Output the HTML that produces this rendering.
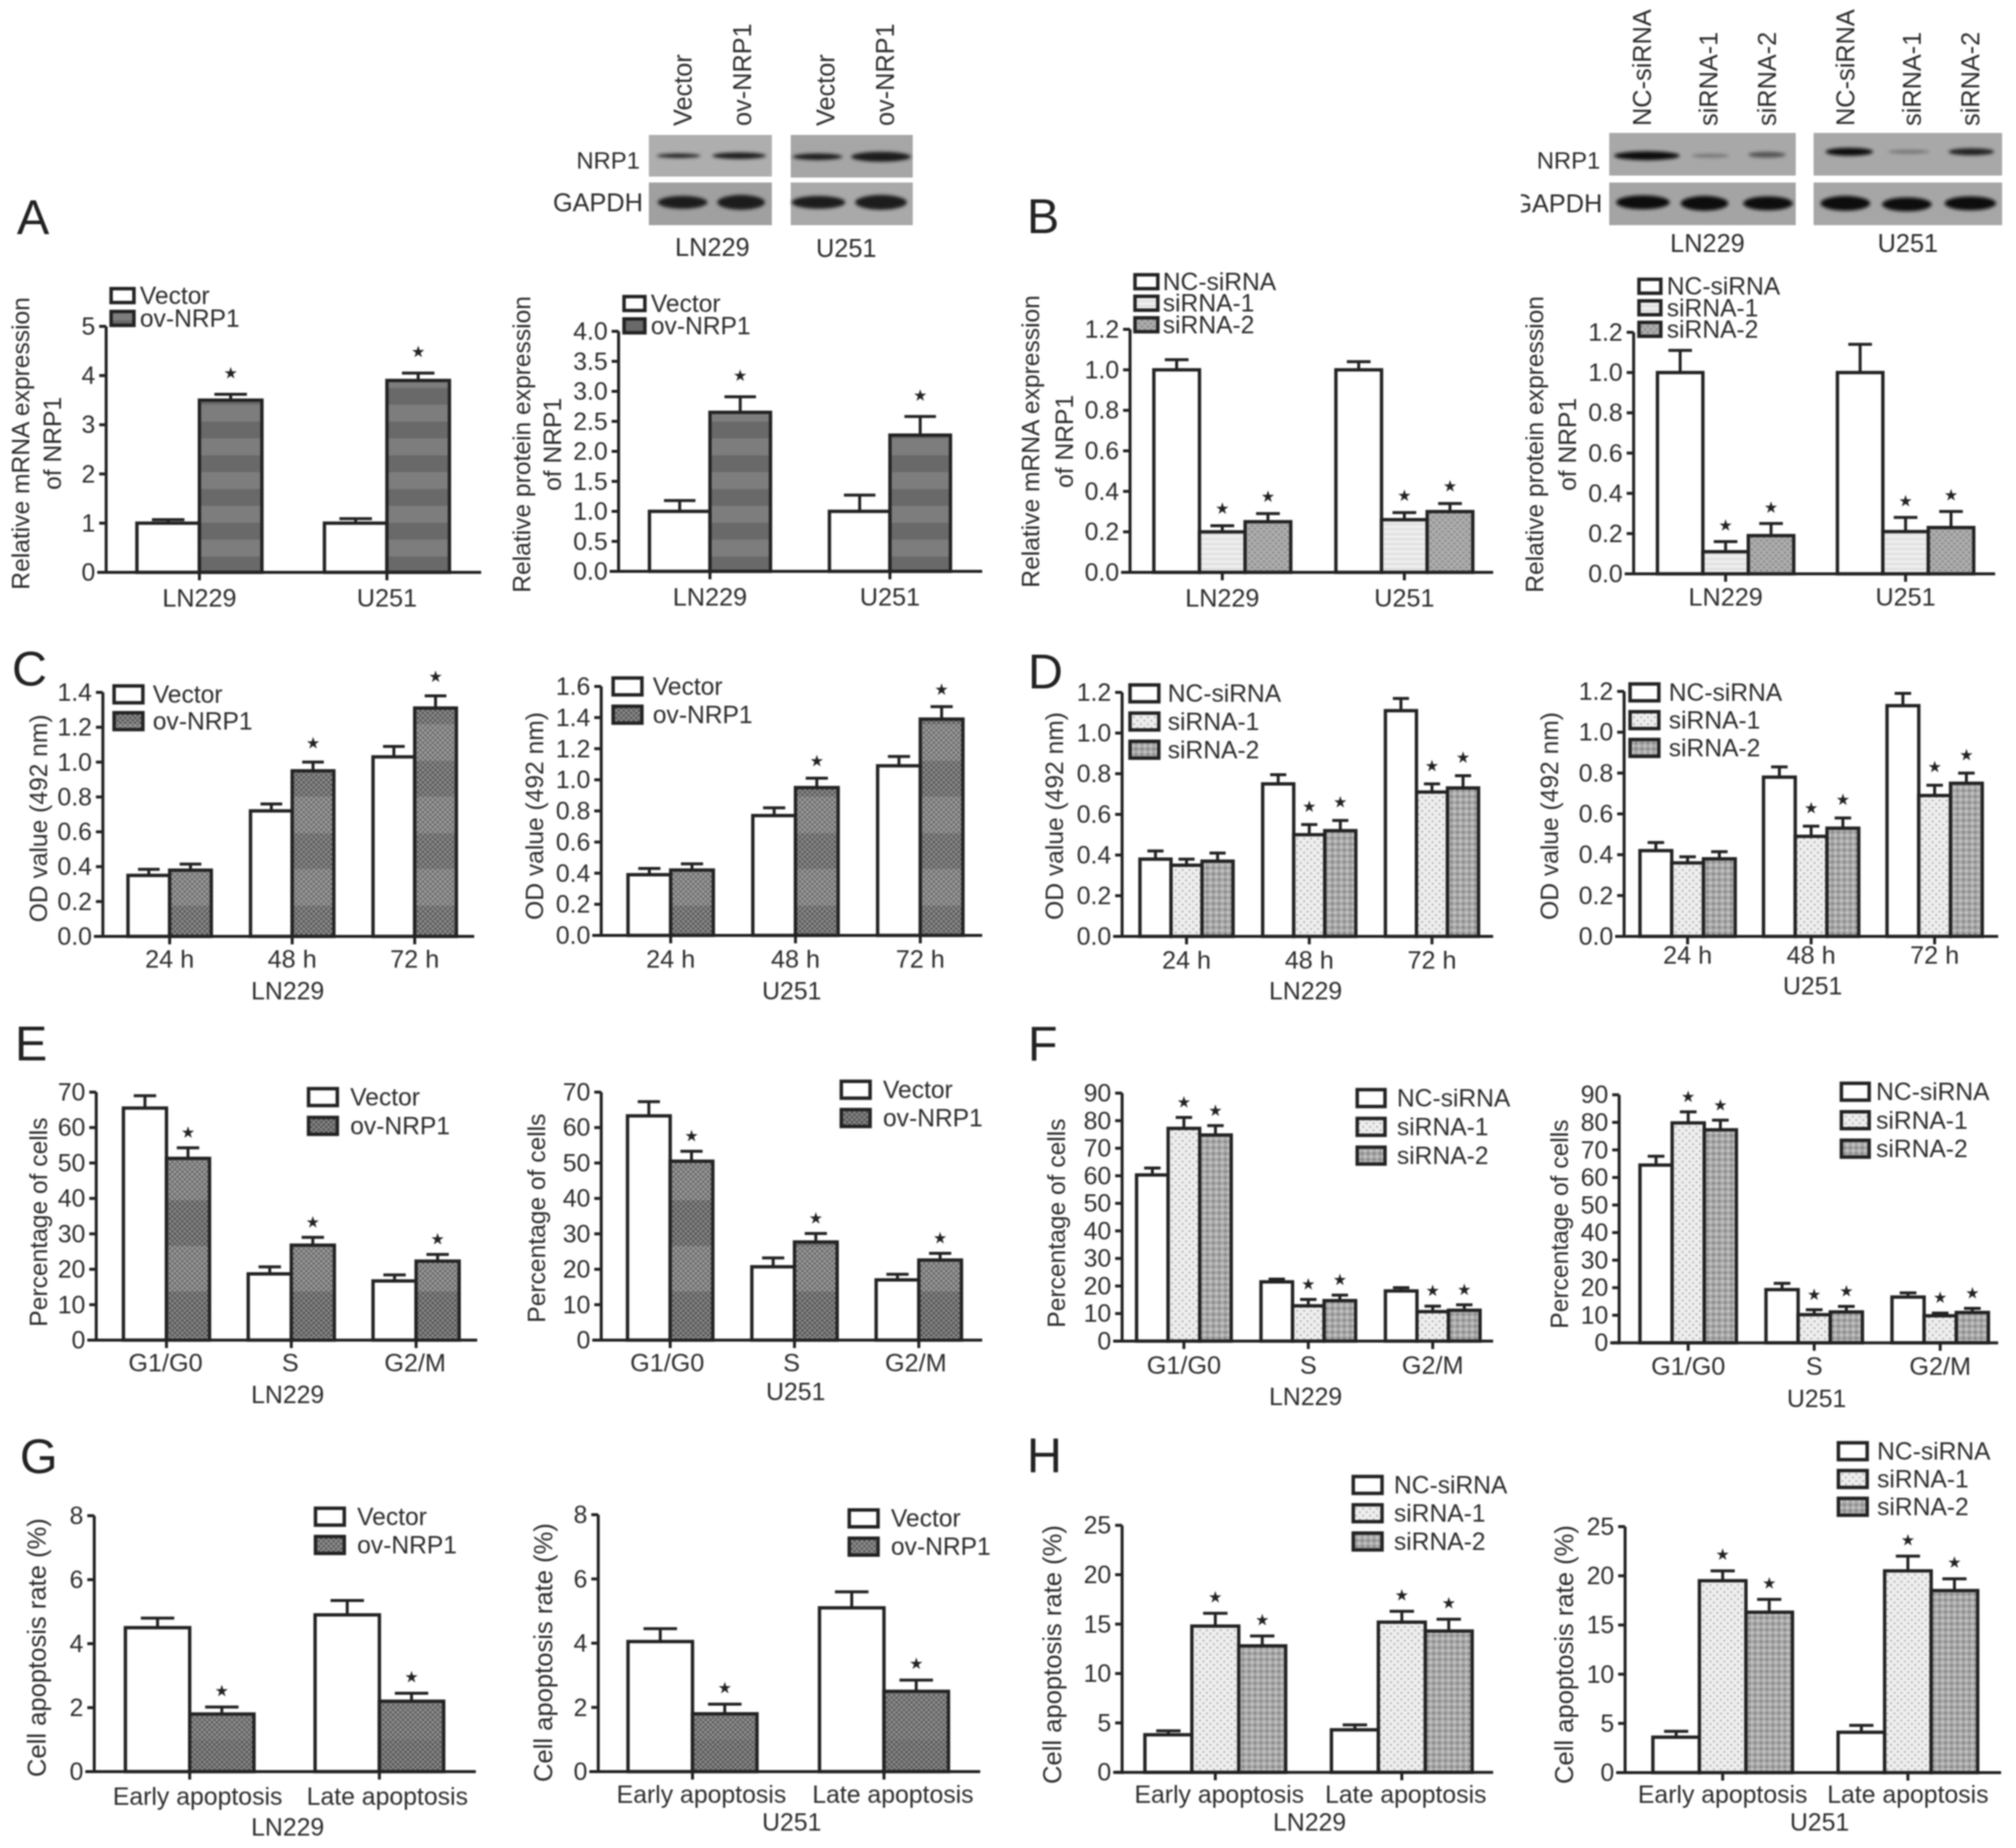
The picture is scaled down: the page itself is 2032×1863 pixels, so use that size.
<!DOCTYPE html>
<html lang="en">
<head>
<meta charset="utf-8">
<title>NRP1 expression, viability, cell cycle and apoptosis panels</title>
<style>
html,body{margin:0;padding:0;background:#fff;}
body{width:2032px;height:1863px;overflow:hidden;}
svg{display:block;filter:blur(0.7px);}
text{font-family:"Liberation Sans",sans-serif;fill:#2c2c2c;}
.blotlabel{font-size:25.5px;}
.nrp{font-size:24px;}
.letter{font-size:49px;fill:#222;}
</style>
</head>
<body>
<svg id="fig" xmlns="http://www.w3.org/2000/svg" width="2032" height="1863" viewBox="0 0 2032 1863">
<defs>
<pattern id="bandA" patternUnits="userSpaceOnUse" width="8" height="34"><rect width="8" height="17" fill="#7d7d7d"/><rect y="17" width="8" height="17" fill="#696969"/></pattern>
<pattern id="bandC" patternUnits="userSpaceOnUse" width="8" height="73" y="37"><rect width="8" height="36" fill="#6f6f6f"/><rect y="36" width="8" height="37" fill="#858585"/></pattern>
<pattern id="bandE" patternUnits="userSpaceOnUse" width="8" height="92" y="14"><rect width="8" height="46" fill="#6a6a6a"/><rect y="46" width="8" height="46" fill="#828282"/></pattern>
<pattern id="bandG" patternUnits="userSpaceOnUse" width="8" height="300" y="1486"><rect width="8" height="268" fill="#747474"/><rect y="268" width="8" height="32" fill="#6c6c6c"/></pattern>
<pattern id="checkOv" patternUnits="userSpaceOnUse" width="5" height="5"><rect width="2.5" height="2.5" fill="#fff" fill-opacity=".2"/><rect x="2.5" y="2.5" width="2.5" height="2.5" fill="#fff" fill-opacity=".2"/><rect x="2.5" width="2.5" height="2.5" fill="#000" fill-opacity=".18"/><rect y="2.5" width="2.5" height="2.5" fill="#000" fill-opacity=".18"/></pattern>
<pattern id="lineLight" patternUnits="userSpaceOnUse" width="6" height="5"><rect width="6" height="5" fill="#ececec"/><rect y="3" width="6" height="1" fill="#d8d8d8"/></pattern>
<pattern id="dotGrey" patternUnits="userSpaceOnUse" width="6" height="6"><rect width="6" height="6" fill="#acacac"/><rect x="1" y="1" width="2" height="2" fill="#8a8a8a"/><rect x="4" y="4" width="2" height="2" fill="#8a8a8a"/></pattern>
<pattern id="dotLight" patternUnits="userSpaceOnUse" width="7" height="7"><rect width="7" height="7" fill="#eee"/><rect x="1" y="1" width="2" height="2" fill="#bdbdbd"/><rect x="4.5" y="4.5" width="2" height="2" fill="#bdbdbd"/></pattern>
<pattern id="dotMid" patternUnits="userSpaceOnUse" width="6" height="6"><rect width="6" height="6" fill="#a8a8a8"/><rect x="1" y="1" width="2" height="2" fill="#d2d2d2"/><rect x="4" y="4" width="2" height="2" fill="#7c7c7c"/></pattern>
<filter id="soft" x="-20%" y="-100%" width="140%" height="300%"><feGaussianBlur stdDeviation="1.5"/></filter>
<clipPath id="gapdhClip"><rect x="1533" y="180" width="90" height="50"/></clipPath>
</defs>

<g>
<text class="letter" x="17" y="236">A</text>
<text class="letter" x="1035" y="235">B</text>
<text class="letter" x="12" y="691">C</text>
<text class="letter" x="1036" y="694">D</text>
<text class="letter" x="15" y="1069">E</text>
<text class="letter" x="1036" y="1069">F</text>
<text class="letter" x="20" y="1485">G</text>
<text class="letter" x="1035" y="1484">H</text>
</g>

<g>
<rect x="654" y="136" width="124" height="42" fill="#aeaeae"/>
<rect x="654" y="184" width="124" height="43" fill="#a0a0a0"/>
<rect x="797" y="136" width="123" height="43" fill="#a6a6a6"/>
<rect x="797" y="184" width="123" height="43" fill="#a9a9a9"/>
<g filter="url(#soft)" fill="#1c1c1c">
<ellipse cx="684" cy="157" rx="22" ry="2.2" fill="#222"/><ellipse cx="745" cy="157" rx="27" ry="3.2"/><ellipse cx="824" cy="158" rx="25" ry="3.2"/><ellipse cx="888" cy="158" rx="30" ry="5"/>
<ellipse cx="688" cy="204" rx="25" ry="6.5"/><ellipse cx="747" cy="204" rx="24" ry="7.5"/><ellipse cx="825" cy="204" rx="27" ry="6.5"/><ellipse cx="888" cy="204" rx="26" ry="7.5"/>
</g>
<text class="blotlabel nrp" x="645" y="170" text-anchor="end">NRP1</text>
<text class="blotlabel" x="648" y="213" text-anchor="end">GAPDH</text>
<text class="blotlabel" x="718" y="258" text-anchor="middle">LN229</text>
<text class="blotlabel" x="853" y="259" text-anchor="middle">U251</text>
<text class="blotlabel" transform="translate(697,127) rotate(-90)">Vector</text>
<text class="blotlabel" transform="translate(757,127) rotate(-90)">ov-NRP1</text>
<text class="blotlabel" transform="translate(841,127) rotate(-90)">Vector</text>
<text class="blotlabel" transform="translate(901,127) rotate(-90)">ov-NRP1</text>
</g>

<g>
<rect x="1622" y="134" width="188" height="43" fill="#a8a8a8"/>
<rect x="1622" y="184" width="188" height="43" fill="#a4a4a4"/>
<rect x="1828" y="134" width="190" height="43" fill="#a8a8a8"/>
<rect x="1828" y="184" width="190" height="43" fill="#a6a6a6"/>
<g filter="url(#soft)" fill="#111">
<ellipse cx="1660" cy="157" rx="33" ry="4.5"/><ellipse cx="1724" cy="157" rx="19" ry="2" fill="#777"/><ellipse cx="1781" cy="156" rx="19" ry="3" fill="#555"/>
<ellipse cx="1864" cy="153" rx="24" ry="4"/><ellipse cx="1924" cy="153" rx="21" ry="2" fill="#777"/><ellipse cx="1987" cy="153" rx="23" ry="3.5" fill="#222"/>
<ellipse cx="1656" cy="204" rx="27" ry="7"/><ellipse cx="1718" cy="205" rx="24" ry="7.5"/><ellipse cx="1782" cy="205" rx="25" ry="7"/>
<ellipse cx="1860" cy="205" rx="25" ry="7.5"/><ellipse cx="1922" cy="206" rx="25" ry="7"/><ellipse cx="1986" cy="205" rx="26" ry="7"/>
</g>
<text class="blotlabel nrp" x="1613" y="170" text-anchor="end">NRP1</text>
<text class="blotlabel" x="1615" y="214" text-anchor="end" clip-path="url(#gapdhClip)">GAPDH</text>
<text class="blotlabel" x="1721" y="254" text-anchor="middle">LN229</text>
<text class="blotlabel" x="1923" y="254" text-anchor="middle">U251</text>
<text class="blotlabel" transform="translate(1664,127) rotate(-90)">NC-siRNA</text>
<text class="blotlabel" transform="translate(1731,127) rotate(-90)">siRNA-1</text>
<text class="blotlabel" transform="translate(1790,127) rotate(-90)">siRNA-2</text>
<text class="blotlabel" transform="translate(1869,127) rotate(-90)">NC-siRNA</text>
<text class="blotlabel" transform="translate(1936,127) rotate(-90)">siRNA-1</text>
<text class="blotlabel" transform="translate(1995,127) rotate(-90)">siRNA-2</text>
</g>
</svg>

<script>
// Shared labels
const vectorSeries = ['Vector', 'ov-NRP1'];
const sirnaSeries = ['NC-siRNA', 'siRNA-1', 'siRNA-2'];
const cellCategories = ['LN229', 'U251'];
const timeCategories = ['24 h', '48 h', '72 h'];
const phaseCategories = ['G1/G0', 'S', 'G2/M'];
const apoptosisCategories = ['Early apoptosis', 'Late apoptosis'];

// Panel A
const a1Ticks = ['0', '1', '2', '3', '4', '5'];
const a1Vector = [1.0, 1.0];
const a1VectorErr = [0.07, 0.09];
const a1Ov = [3.5, 3.9];
const a1OvErr = [0.12, 0.15];
const a2Ticks = ['0.0', '0.5', '1.0', '1.5', '2.0', '2.5', '3.0', '3.5', '4.0'];
const a2Vector = [1.0, 1.0];
const a2VectorErr = [0.18, 0.27];
const a2Ov = [2.65, 2.27];
const a2OvErr = [0.26, 0.31];

// Panel B
const b1Ticks = ['0.0', '0.2', '0.4', '0.6', '0.8', '1.0', '1.2'];
const b1Nc = [1.0, 1.0];
const b1NcErr = [0.05, 0.04];
const b1Si1 = [0.2, 0.26];
const b1Si1Err = [0.03, 0.035];
const b1Si2 = [0.25, 0.3];
const b1Si2Err = [0.04, 0.04];
const b2Ticks = ['0.0', '0.2', '0.4', '0.6', '0.8', '1.0', '1.2'];
const b2Nc = [1.0, 1.0];
const b2NcErr = [0.11, 0.14];
const b2Si1 = [0.11, 0.21];
const b2Si1Err = [0.05, 0.07];
const b2Si2 = [0.19, 0.23];
const b2Si2Err = [0.06, 0.08];

// Panel C
const c1Ticks = ['0.0', '0.2', '0.4', '0.6', '0.8', '1.0', '1.2', '1.4'];
const c1Vector = [0.35, 0.72, 1.03];
const c1VectorErr = [0.035, 0.04, 0.06];
const c1Ov = [0.38, 0.95, 1.31];
const c1OvErr = [0.035, 0.05, 0.07];
const c2Ticks = ['0.0', '0.2', '0.4', '0.6', '0.8', '1.0', '1.2', '1.4', '1.6'];
const c2Vector = [0.39, 0.77, 1.09];
const c2VectorErr = [0.04, 0.05, 0.06];
const c2Ov = [0.42, 0.95, 1.39];
const c2OvErr = [0.04, 0.06, 0.08];

// Panel D
const d1Ticks = ['0.0', '0.2', '0.4', '0.6', '0.8', '1.0', '1.2'];
const d1Nc = [0.38, 0.75, 1.11];
const d1NcErr = [0.04, 0.045, 0.06];
const d1Si1 = [0.35, 0.5, 0.71];
const d1Si1Err = [0.03, 0.05, 0.04];
const d1Si2 = [0.37, 0.52, 0.73];
const d1Si2Err = [0.04, 0.05, 0.06];
const d2Ticks = ['0.0', '0.2', '0.4', '0.6', '0.8', '1.0', '1.2'];
const d2Nc = [0.42, 0.78, 1.13];
const d2NcErr = [0.04, 0.05, 0.06];
const d2Si1 = [0.36, 0.49, 0.69];
const d2Si1Err = [0.03, 0.05, 0.05];
const d2Si2 = [0.38, 0.53, 0.75];
const d2Si2Err = [0.035, 0.05, 0.05];

// Panel E
const e1Ticks = ['0', '10', '20', '30', '40', '50', '60', '70'];
const e1Vector = [65.5, 18.7, 16.7];
const e1VectorErr = [3.5, 2.0, 1.7];
const e1Ov = [51.3, 26.8, 22.3];
const e1OvErr = [3.0, 2.2, 1.9];
const e2Ticks = ['0', '10', '20', '30', '40', '50', '60', '70'];
const e2Vector = [63.3, 20.7, 17.0];
const e2VectorErr = [4.0, 2.5, 1.6];
const e2Ov = [50.5, 27.7, 22.6];
const e2OvErr = [2.8, 2.4, 1.9];

// Panel F
const f1Ticks = ['0', '10', '20', '30', '40', '50', '60', '70', '80', '90'];
const f1Nc = [60.3, 21.5, 18.2];
const f1NcErr = [2.5, 1.0, 1.2];
const f1Si1 = [77.2, 12.8, 10.7];
const f1Si1Err = [4.0, 2.3, 2.0];
const f1Si2 = [74.8, 14.7, 11.2];
const f1Si2Err = [3.4, 2.0, 2.0];
const f2Ticks = ['0', '10', '20', '30', '40', '50', '60', '70', '80', '90'];
const f2Nc = [64.5, 19.3, 16.6];
const f2NcErr = [3.2, 2.3, 1.5];
const f2Si1 = [79.8, 10.2, 9.8];
const f2Si1Err = [4.0, 1.8, 1.0];
const f2Si2 = [77.3, 11.2, 11.0];
const f2Si2Err = [3.5, 2.0, 1.5];

// Panel G
const g1Ticks = ['0', '2', '4', '6', '8'];
const g1Vector = [4.5, 4.9];
const g1VectorErr = [0.3, 0.45];
const g1Ov = [1.8, 2.2];
const g1OvErr = [0.22, 0.25];
const g2Ticks = ['0', '2', '4', '6', '8'];
const g2Vector = [4.05, 5.1];
const g2VectorErr = [0.4, 0.5];
const g2Ov = [1.8, 2.5];
const g2OvErr = [0.3, 0.35];

// Panel H
const h1Ticks = ['0', '5', '10', '15', '20', '25'];
const h1Nc = [3.8, 4.3];
const h1NcErr = [0.4, 0.5];
const h1Si1 = [14.8, 15.2];
const h1Si1Err = [1.3, 1.1];
const h1Si2 = [12.8, 14.3];
const h1Si2Err = [1.0, 1.2];
const h2Ticks = ['0', '5', '10', '15', '20', '25'];
const h2Nc = [3.6, 4.1];
const h2NcErr = [0.6, 0.7];
const h2Si1 = [19.5, 20.5];
const h2Si1Err = [1.0, 1.5];
const h2Si2 = [16.3, 18.5];
const h2Si2Err = [1.3, 1.2];

const SVGNS = 'http://www.w3.org/2000/svg';
const INK = '#222';
const fig = document.getElementById('fig');

function make(tag, parent, name, props, interactable) {
  const el = document.createElementNS(SVGNS, tag);
  
  
  for (const k in props) el.setAttribute(k, props[k]);
  parent.appendChild(el);
  return el;
}
function line(parent, name, x1, y1, x2, y2, w) {
  return make('line', parent, name, {x1: x1, y1: y1, x2: x2, y2: y2, stroke: INK, 'stroke-width': w || 3});
}
function label(parent, name, str, x, y, anchor, size, transform) {
  const props = {x: x, y: y, 'text-anchor': anchor || 'middle', 'font-size': size || 24.5};
  if (transform) {
    props.transform = transform;
    props.x = 0;
    props.y = 0;
  }
  const t = make('text', parent, name, props);
  t.textContent = str;
  return t;
}

// Plain white plus the fill layers each series style uses.
const FILLS = {
  white: ['#fff'],
  bandA: ['url(#bandA)'],
  bandC: ['url(#bandC)', 'url(#checkOv)'],
  bandE: ['url(#bandE)', 'url(#checkOv)'],
  bandG: ['url(#bandG)', 'url(#checkOv)'],
  lineLight: ['url(#lineLight)'],
  dotGrey: ['url(#dotGrey)'],
  dotLight: ['url(#dotLight)'],
  dotMid: ['url(#dotMid)']
};
function box(parent, name, x, y, w, h, style, sw) {
  FILLS[style].forEach(function (f) {
    make('rect', parent, name + '-fill', {x: x, y: y, width: w, height: h, fill: f});
  });
  make('rect', parent, name + '-outline', {x: x, y: y, width: w, height: h, fill: 'none', stroke: INK, 'stroke-width': sw || 3.4});
}

function drawPanel(p) {
  const g = make('g', fig, p.name, {});
  const ticks = p.ticks.map(Number);
  const yMax = ticks[ticks.length - 1];
  const yScale = function (v) { return p.base - (v / yMax) * (p.base - p.top); };
  const nSeries = p.series.length;
  const band = function (c, s) { return p.left + c * p.step + s * p.barW; };
  const center = function (c) { return band(c, 0) + nSeries * p.barW / 2; };

  // y axis
  line(g, 'y-axis', p.axisX, p.top, p.axisX, p.base + 1.5);
  ticks.forEach(function (v, i) {
    line(g, 'y-tick', p.axisX - 7, yScale(v), p.axisX, yScale(v));
    label(g, 'y-tick-label', p.ticks[i], p.axisX - 11, yScale(v) + 8.5, 'end', 25);
  });
  // titles
  p.title.forEach(function (str, i) {
    label(g, 'y-axis-title', str, 0, 0, 'middle', p.titleSize || 24.8,
      'translate(' + (p.titleX[i] + 8.5) + ',' + p.titleY + ') rotate(-90)');
  });

  // bars, error bars, stars
  p.series.forEach(function (s, si) {
    s.values.forEach(function (v, c) {
      const x = band(c, si);
      const y = yScale(v);
      const eTop = yScale(v + s.errors[c]);
      const mid = x + p.barW / 2;
      const capW = p.barW * 0.52;
      line(g, 'error-bar-stem', mid, y, mid, eTop);
      line(g, 'error-bar-cap', mid - capW / 2, eTop, mid + capW / 2, eTop);
      box(g, 'bar-' + s.key + '-' + c, x, y, p.barW, p.base - y, s.style);
      if (s.starred && p.noStar.indexOf(p.categories[c]) < 0) {
        const star = label(g, 'significance-star', '★', mid, eTop - p.starGap + 6, 'middle', 16);
        star.setAttribute('style', 'font-family:"DejaVu Sans",sans-serif;fill:#222');
      }
    });
  });

  // x axis
  line(g, 'x-axis', p.axisX - 9, p.base, p.right, p.base);
  p.categories.forEach(function (cat, c) {
    line(g, 'x-tick', center(c), p.base, center(c), p.base + 8);
    label(g, 'x-tick-label', cat, center(c) + p.catDx, p.catY + 8.5, 'middle', p.catSize || 25.4);
  });
  if (p.cell) label(g, 'x-axis-title', p.cell, p.cellX, p.cellY + 8.5, 'middle', 25);

  // legend
  p.series.forEach(function (s, si) {
    const cy = p.legend.y + si * p.legend.dy;
    box(g, 'legend-swatch-' + s.key, p.legend.x, cy - p.legend.h / 2, p.legend.w, p.legend.h, s.style, 3.5);
    label(g, 'legend-label-' + s.key, p.legendLabels[si], p.legend.textX, cy + 8.5, 'start', 24.8);
  });
}

function vectorPair(values, errors, ovValues, ovErrors, ovStyle) {
  return [
    {key: 'vector', values: values, errors: errors, style: 'white', starred: false},
    {key: 'ov-nrp1', values: ovValues, errors: ovErrors, style: ovStyle, starred: true}
  ];
}
function sirnaTrio(nc, ncErr, si1, si1Err, si2, si2Err, s1Style, s2Style) {
  return [
    {key: 'nc-sirna', values: nc, errors: ncErr, style: 'white', starred: false},
    {key: 'sirna-1', values: si1, errors: si1Err, style: s1Style, starred: true},
    {key: 'sirna-2', values: si2, errors: si2Err, style: s2Style, starred: true}
  ];
}
const mrna = ['Relative mRNA expression', 'of NRP1'];
const protein = ['Relative protein expression', 'of NRP1'];
const od = ['OD value (492 nm)'];
const pct = ['Percentage of cells'];
const apo = ['Cell apoptosis rate (%)'];

drawPanel({name: 'chart-a-mrna', ticks: a1Ticks, categories: cellCategories, noStar: [], legendLabels: vectorSeries, starGap: 22,
  series: vectorPair(a1Vector, a1VectorErr, a1Ov, a1OvErr, 'bandA'),
  axisX: 107, right: 485, top: 329, base: 577, left: 138, barW: 63, step: 189,
  title: mrna, titleX: [21, 53], titleY: 447, catDx: 0, catY: 603,
  legend: {x: 112, w: 23, h: 14, y: 298, dy: 23, textX: 141}});
drawPanel({name: 'chart-a-protein', ticks: a2Ticks, categories: cellCategories, noStar: [], legendLabels: vectorSeries, starGap: 22,
  series: vectorPair(a2Vector, a2VectorErr, a2Ov, a2OvErr, 'bandA'),
  axisX: 623.5, right: 990, top: 334, base: 576, left: 654.6, barW: 61, step: 181.4,
  title: protein, titleX: [526, 557], titleY: 448, catDx: 0, catY: 602,
  legend: {x: 629, w: 21, h: 14, y: 306, dy: 22.5, textX: 656}});
drawPanel({name: 'chart-b-mrna', ticks: b1Ticks, categories: cellCategories, noStar: [], legendLabels: sirnaSeries, starGap: 18,
  series: sirnaTrio(b1Nc, b1NcErr, b1Si1, b1Si1Err, b1Si2, b1Si2Err, 'lineLight', 'dotGrey'),
  axisX: 1139, right: 1505, top: 332, base: 577, left: 1163, barW: 46, step: 183.5,
  title: mrna, titleX: [1039, 1073], titleY: 445, catDx: 0, catY: 603,
  legend: {x: 1144, w: 23, h: 14, y: 284, dy: 21.7, textX: 1172}});
drawPanel({name: 'chart-b-protein', ticks: b2Ticks, categories: cellCategories, noStar: [], legendLabels: sirnaSeries, starGap: 17,
  series: sirnaTrio(b2Nc, b2NcErr, b2Si1, b2Si1Err, b2Si2, b2Si2Err, 'lineLight', 'dotGrey'),
  axisX: 1646.6, right: 2011, top: 335, base: 578.5, left: 1670.6, barW: 45.8, step: 181.4,
  title: protein, titleX: [1547, 1580], titleY: 448, catDx: 0, catY: 602,
  legend: {x: 1652, w: 22, h: 14, y: 288.6, dy: 21.7, textX: 1680}});

drawPanel({name: 'chart-c-ln229', ticks: c1Ticks, categories: timeCategories, noStar: ['24 h'], legendLabels: vectorSeries, starGap: 20,
  series: vectorPair(c1Vector, c1VectorErr, c1Ov, c1OvErr, 'bandC'),
  axisX: 103.7, right: 478, top: 698, base: 944, left: 129, barW: 42, step: 123.5,
  title: od, titleX: [39], titleY: 825, catDx: 0, catY: 967, cell: 'LN229', cellX: 290, cellY: 999,
  legend: {x: 115, w: 29, h: 17, y: 700, dy: 27, textX: 154}});
drawPanel({name: 'chart-c-u251', ticks: c2Ticks, categories: timeCategories, noStar: ['24 h'], legendLabels: vectorSeries, starGap: 18,
  series: vectorPair(c2Vector, c2VectorErr, c2Ov, c2OvErr, 'bandC'),
  axisX: 606, right: 990, top: 692, base: 943, left: 633, barW: 43, step: 125.8,
  title: od, titleX: [539], titleY: 822.6, catDx: 0, catY: 967, cell: 'U251', cellX: 798, cellY: 999,
  legend: {x: 618, w: 29, h: 17, y: 692, dy: 28.5, textX: 658}});
drawPanel({name: 'chart-d-ln229', ticks: d1Ticks, categories: timeCategories, noStar: ['24 h'], legendLabels: sirnaSeries, starGap: 19,
  series: sirnaTrio(d1Nc, d1NcErr, d1Si1, d1Si1Err, d1Si2, d1Si2Err, 'dotLight', 'dotMid'),
  axisX: 1131, right: 1505, top: 698, base: 944, left: 1149, barW: 31.3, step: 123.7,
  title: od, titleX: [1063], titleY: 822.6, catDx: 0, catY: 968, cell: 'LN229', cellX: 1316, cellY: 999,
  legend: {x: 1139, w: 29, h: 17, y: 699, dy: 28.4, textX: 1177}});
drawPanel({name: 'chart-d-u251', ticks: d2Ticks, categories: timeCategories, noStar: ['24 h'], legendLabels: sirnaSeries, starGap: 19,
  series: sirnaTrio(d2Nc, d2NcErr, d2Si1, d2Si1Err, d2Si2, d2Si2Err, 'dotLight', 'dotMid'),
  axisX: 1637, right: 2014, top: 697, base: 944, left: 1653, barW: 32, step: 124.5,
  title: od, titleX: [1562], titleY: 822.6, catDx: 0, catY: 963, cell: 'U251', cellX: 1827, cellY: 994,
  legend: {x: 1643, w: 29, h: 17, y: 698, dy: 28, textX: 1682}});

drawPanel({name: 'chart-e-ln229', ticks: e1Ticks, categories: phaseCategories, noStar: [], legendLabels: vectorSeries, starGap: 16,
  series: vectorPair(e1Vector, e1VectorErr, e1Ov, e1OvErr, 'bandE'),
  axisX: 97, right: 481, top: 1101, base: 1351, left: 124.4, barW: 43.4, step: 125.8,
  title: pct, titleX: [39], titleY: 1232, catDx: -1, catY: 1374, cell: 'LN229', cellX: 290, cellY: 1406,
  legend: {x: 311, w: 29, h: 17, y: 1106, dy: 29, textX: 353}});
drawPanel({name: 'chart-e-u251', ticks: e2Ticks, categories: phaseCategories, noStar: [], legendLabels: vectorSeries, starGap: 16,
  series: vectorPair(e2Vector, e2VectorErr, e2Ov, e2OvErr, 'bandE'),
  axisX: 606, right: 990, top: 1101, base: 1351, left: 632.5, barW: 43, step: 125.3,
  title: pct, titleX: [541], titleY: 1228, catDx: -3, catY: 1374, cell: 'U251', cellX: 802, cellY: 1403,
  legend: {x: 848, w: 29, h: 17, y: 1098.6, dy: 28.5, textX: 890}});
drawPanel({name: 'chart-f-ln229', ticks: f1Ticks, categories: phaseCategories, noStar: [], legendLabels: sirnaSeries, starGap: 16,
  series: sirnaTrio(f1Nc, f1NcErr, f1Si1, f1Si1Err, f1Si2, f1Si2Err, 'dotLight', 'dotMid'),
  axisX: 1131, right: 1505, top: 1102, base: 1352, left: 1145.6, barW: 31.8, step: 125.4,
  title: pct, titleX: [1065], titleY: 1233, catDx: 0, catY: 1376.6, cell: 'LN229', cellX: 1316, cellY: 1408,
  legend: {x: 1368, w: 28, h: 17, y: 1107, dy: 29, textX: 1408}});
drawPanel({name: 'chart-f-u251', ticks: f2Ticks, categories: phaseCategories, noStar: [], legendLabels: sirnaSeries, starGap: 16,
  series: sirnaTrio(f2Nc, f2NcErr, f2Si1, f2Si1Err, f2Si2, f2Si2Err, 'dotLight', 'dotMid'),
  axisX: 1632, right: 2014, top: 1103.7, base: 1353.7, left: 1653, barW: 32.4, step: 127,
  title: pct, titleX: [1572], titleY: 1234, catDx: 0, catY: 1377.6, cell: 'U251', cellX: 1831, cellY: 1410,
  legend: {x: 1856, w: 28, h: 17, y: 1100.6, dy: 28.7, textX: 1891}});

drawPanel({name: 'chart-g-ln229', ticks: g1Ticks, categories: apoptosisCategories, noStar: [], legendLabels: vectorSeries, starGap: 17,
  series: vectorPair(g1Vector, g1VectorErr, g1Ov, g1OvErr, 'bandG'),
  axisX: 95, right: 479.6, top: 1528, base: 1786, left: 126.4, barW: 64.8, step: 191.2,
  title: apo, titleSize: 25.8, titleX: [37.6], titleY: 1661, catDx: 8, catSize: 25, catY: 1811, cell: 'LN229', cellX: 290, cellY: 1842,
  legend: {x: 318, w: 29, h: 17, y: 1529, dy: 28.5, textX: 360}});
drawPanel({name: 'chart-g-u251', ticks: g2Ticks, categories: apoptosisCategories, noStar: [], legendLabels: vectorSeries, starGap: 17,
  series: vectorPair(g2Vector, g2VectorErr, g2Ov, g2OvErr, 'bandG'),
  axisX: 603, right: 988, top: 1527, base: 1786, left: 633, barW: 65, step: 193,
  title: apo, titleSize: 25.8, titleX: [548], titleY: 1666, catDx: 9, catSize: 25, catY: 1809, cell: 'U251', cellX: 798, cellY: 1837,
  legend: {x: 856, w: 29, h: 17, y: 1530.7, dy: 28.5, textX: 898}});
drawPanel({name: 'chart-h-ln229', ticks: h1Ticks, categories: apoptosisCategories, noStar: [], legendLabels: sirnaSeries, starGap: 17,
  series: sirnaTrio(h1Nc, h1NcErr, h1Si1, h1Si1Err, h1Si2, h1Si2Err, 'dotLight', 'dotMid'),
  axisX: 1131, right: 1505, top: 1537.7, base: 1786.7, left: 1154, barW: 47.3, step: 188,
  title: apo, titleSize: 25.8, titleX: [1061], titleY: 1668, catDx: 4, catSize: 25, catY: 1809, cell: 'LN229', cellX: 1320, cellY: 1837,
  legend: {x: 1364, w: 29, h: 17, y: 1497, dy: 28.5, textX: 1405}});
drawPanel({name: 'chart-h-u251', ticks: h2Ticks, categories: apoptosisCategories, noStar: [], legendLabels: sirnaSeries, starGap: 17,
  series: sirnaTrio(h2Nc, h2NcErr, h2Si1, h2Si1Err, h2Si2, h2Si2Err, 'dotLight', 'dotMid'),
  axisX: 1638, right: 2017, top: 1539, base: 1787, left: 1666, barW: 46.9, step: 186.7,
  title: apo, titleSize: 25.8, titleX: [1577], titleY: 1668, catDx: 0, catSize: 25, catY: 1809, cell: 'U251', cellX: 1834, cellY: 1837,
  legend: {x: 1853, w: 29, h: 17, y: 1463, dy: 28, textX: 1892}});
</script>
</body>
</html>
